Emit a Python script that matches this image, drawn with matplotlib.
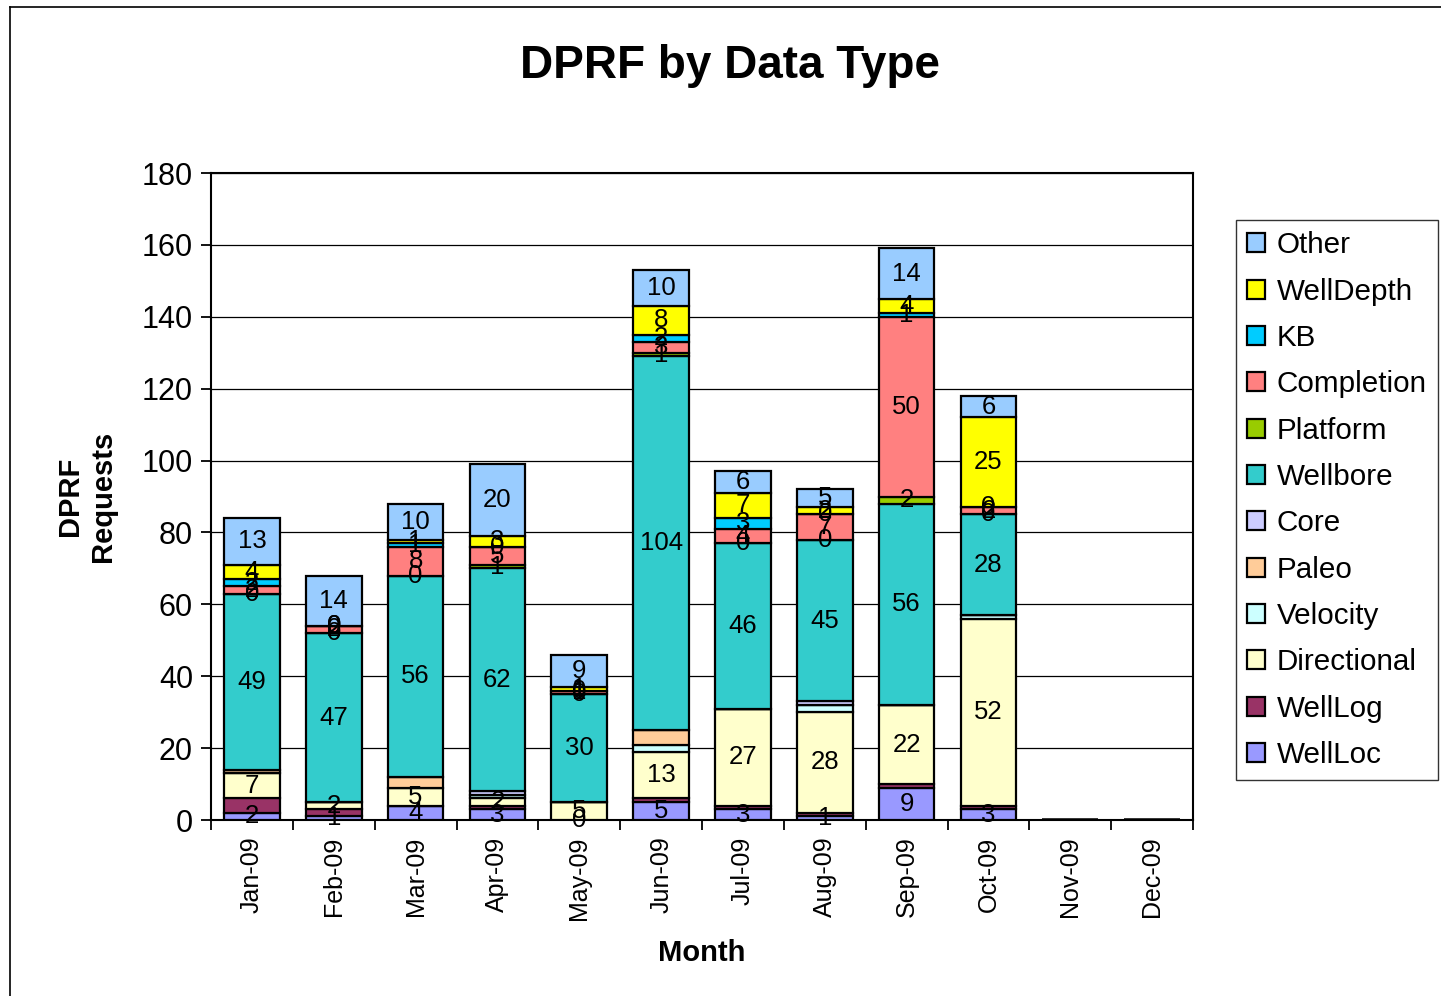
import numpy as np
import matplotlib

matplotlib.use('Agg')
import matplotlib.pyplot as plt
from matplotlib.lines import Line2D

plt.rcParams['font.family'] = ['Liberation Sans', 'DejaVu Sans']

months = ['Jan-09', 'Feb-09', 'Mar-09', 'Apr-09', 'May-09', 'Jun-09',
          'Jul-09', 'Aug-09', 'Sep-09', 'Oct-09', 'Nov-09', 'Dec-09']
nan = np.nan

# series, bottom to top of each stack
well_loc = [2, 1, 4, 3, 0, 5, 3, 1, 9, 3, nan, nan]
well_log = [4, 2, 0, 1, 0, 1, 1, 1, 1, 1, nan, nan]
directional = [7, 2, 5, 2, 5, 13, 27, 28, 22, 52, nan, nan]
velocity = [0, 0, 0, 1, 0, 2, 0, 2, 0, 1, nan, nan]
paleo = [1, 0, 3, 0, 0, 4, 0, 0, 0, 0, nan, nan]
core = [0, 0, 0, 1, 0, 0, 0, 1, 0, 0, nan, nan]
wellbore = [49, 47, 56, 62, 30, 104, 46, 45, 56, 28, nan, nan]
platform = [0, 0, 0, 1, 0, 1, 0, 0, 2, 0, nan, nan]
completion = [2, 2, 8, 5, 1, 3, 4, 7, 50, 2, nan, nan]
kb = [2, 0, 1, 0, 0, 2, 3, 0, 1, 0, nan, nan]
well_depth = [4, 0, 1, 3, 1, 8, 7, 2, 4, 25, nan, nan]
other = [13, 14, 10, 20, 9, 10, 6, 5, 14, 6, nan, nan]

series = [
    ('WellLoc', well_loc, '#9999FF', True),
    ('WellLog', well_log, '#993366', False),
    ('Directional', directional, '#FFFFCC', True),
    ('Velocity', velocity, '#CCFFFF', False),
    ('Paleo', paleo, '#FFCC99', False),
    ('Core', core, '#CCCCFF', False),
    ('Wellbore', wellbore, '#33CCCC', True),
    ('Platform', platform, '#99CC00', True),
    ('Completion', completion, '#FF8080', True),
    ('KB', kb, '#00CCFF', True),
    ('WellDepth', well_depth, '#FFFF00', True),
    ('Other', other, '#99CCFF', True),
]

fig = plt.figure(figsize=(14.41, 9.96), dpi=100)
ax = fig.add_axes([211 / 1441, 1 - 820 / 996, 982 / 1441, 647 / 996])

x = np.arange(len(months))
bottom = np.zeros(len(months))
handles = []
for name, vals, color, show_label in series:
    v = np.array(vals, dtype=float)
    h = np.nan_to_num(v)
    bars = ax.bar(x, h, 0.68, bottom=bottom, color=color, edgecolor='black',
                  linewidth=1.6, zorder=3, label=name)
    handles.append(bars)
    if show_label:
        for i in range(len(months)):
            if not np.isnan(v[i]):
                ax.text(x[i], bottom[i] + h[i] / 2, '%d' % v[i], ha='center',
                        va='center', fontsize=18.5, zorder=5)
    bottom += h

ax.set_xlim(-0.5, len(months) - 0.5)
ax.set_ylim(0, 180)
ax.set_yticks(np.arange(0, 181, 20))
ax.yaxis.grid(True, color='black', linewidth=0.9, zorder=0)
ax.tick_params(axis='y', labelsize=22, direction='out', length=7, width=1.3, pad=6)

# ticks between categories, labels at centers
ax.set_xticks(np.arange(-0.5, len(months), 1))
ax.set_xticklabels([])
ax.set_xticks(x, minor=True)
ax.set_xticklabels(months, minor=True, rotation=90, fontsize=18)
ax.tick_params(axis='x', which='major', direction='out', length=7, width=1.3)
ax.tick_params(axis='x', which='minor', length=0, pad=12)

for sp in ax.spines.values():
    sp.set_linewidth(1.5)
    sp.set_color('black')

ax.set_xlabel('Month', fontsize=21, fontweight='bold', labelpad=14)
ax.set_ylabel('DPRF\nRequests', fontsize=21, fontweight='bold', labelpad=18)
fig.text(730 / 1441, 1 - 66 / 996, 'DPRF by Data Type', ha='center', va='center',
         fontsize=33, fontweight='bold')

leg = fig.legend(handles[::-1], [s[0] for s in series][::-1], loc='upper left',
                 bbox_to_anchor=(1236 / 1441, 1 - 220 / 996), fontsize=21.3,
                 frameon=True, fancybox=False, edgecolor='black',
                 handlelength=0.6, handleheight=0.6, handletextpad=0.4,
                 labelspacing=0.62, borderpad=0.38, borderaxespad=0)
leg.get_frame().set_linewidth(1.0)

# outer chart frame
fig.add_artist(Line2D([10 / 1441, 10 / 1441], [0, 1 - 7 / 996], color='black', lw=1.2))
fig.add_artist(Line2D([10 / 1441, 1], [1 - 7 / 996, 1 - 7 / 996], color='black', lw=1.2))

fig.savefig('out.png', dpi=100)
